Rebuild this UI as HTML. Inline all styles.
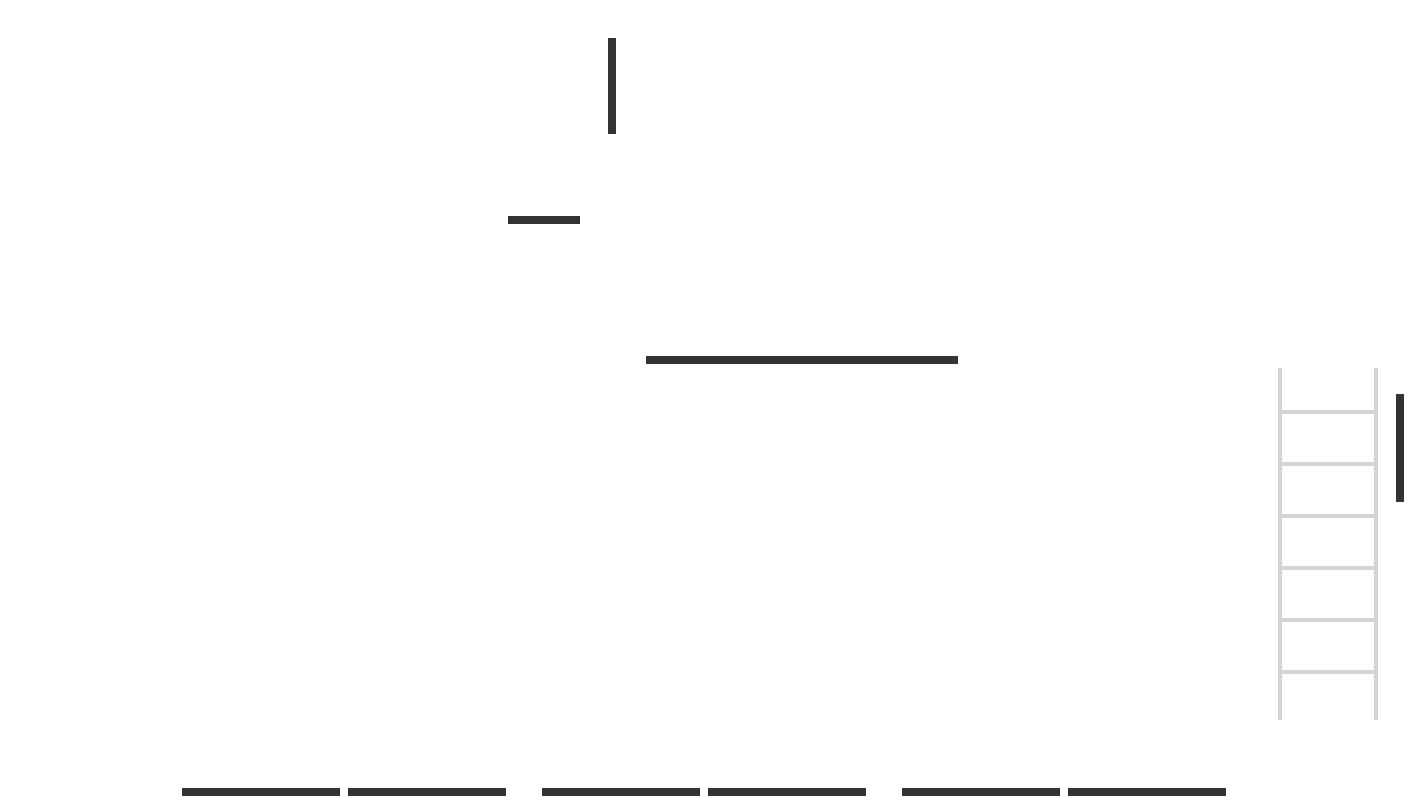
<!DOCTYPE html>
<html><head><style>
html,body{margin:0;padding:0;background:#fff;width:1408px;height:800px;overflow:hidden;position:relative}
.d{position:absolute;background:#333}
.l{position:absolute;background:#d3d3d3}
</style></head><body>
<div class="d" style="left:608px;top:38px;width:8px;height:96px"></div>
<div class="d" style="left:508px;top:216px;width:72px;height:8px"></div>
<div class="d" style="left:646px;top:356px;width:312px;height:8px"></div>
<div class="d" style="left:1396px;top:394px;width:8px;height:108px"></div>
<div class="d" style="left:182px;top:788px;width:158px;height:8px"></div>
<div class="d" style="left:348px;top:788px;width:158px;height:8px"></div>
<div class="d" style="left:542px;top:788px;width:158px;height:8px"></div>
<div class="d" style="left:708px;top:788px;width:158px;height:8px"></div>
<div class="d" style="left:902px;top:788px;width:158px;height:8px"></div>
<div class="d" style="left:1068px;top:788px;width:158px;height:8px"></div>
<div class="l" style="left:1278px;top:368px;width:4px;height:352px"></div>
<div class="l" style="left:1374px;top:368px;width:4px;height:352px"></div>
<div class="l" style="left:1282px;top:410px;width:92px;height:4px"></div>
<div class="l" style="left:1282px;top:462px;width:92px;height:4px"></div>
<div class="l" style="left:1282px;top:514px;width:92px;height:4px"></div>
<div class="l" style="left:1282px;top:566px;width:92px;height:4px"></div>
<div class="l" style="left:1282px;top:618px;width:92px;height:4px"></div>
<div class="l" style="left:1282px;top:670px;width:92px;height:4px"></div>
</body></html>
